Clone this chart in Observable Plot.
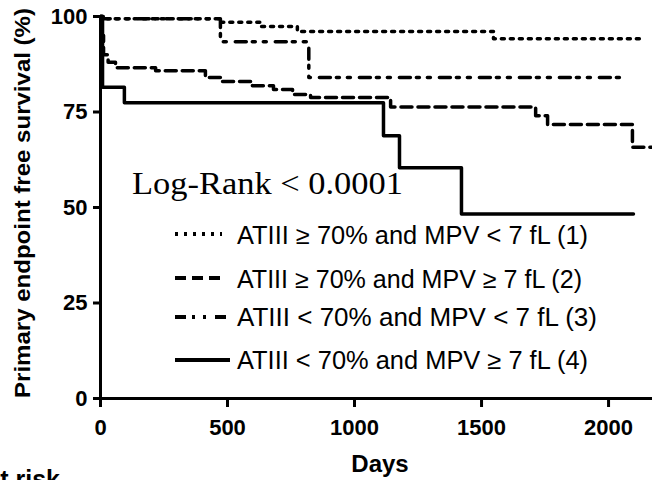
<!DOCTYPE html>
<html>
<head>
<meta charset="utf-8">
<script src="https://cdn.jsdelivr.net/npm/d3@7"></script>
<script src="https://cdn.jsdelivr.net/npm/@observablehq/plot@0.6"></script>
<style>
  html, body { margin: 0; padding: 0; background: #fff; }
  svg { display: block; }
</style>
</head>
<body>
<div id="chart"></div>
<script>
// ---- data ----
const groups = [
  "ATIII \u2265 70% and MPV < 7 fL (1)",
  "ATIII \u2265 70% and MPV \u2265 7 fL (2)",
  "ATIII < 70% and MPV < 7 fL (3)",
  "ATIII < 70% and MPV \u2265 7 fL (4)"
];
const days1 = [0, 10, 472, 630, 775, 1547, 2138];
const surv1 = [100, 99.4, 98.5, 97.4, 96.1, 94.2, 94.2];
const days2 = [0, 4, 12, 30, 59, 217, 413, 480, 598, 681, 756, 827, 1142, 1713, 1760, 2094, 2173];
const surv2 = [100, 95, 90, 88, 86.6, 85.8, 84.0, 83.0, 81.9, 80.9, 79.6, 78.8, 76.3, 74.0, 71.7, 65.8, 65.8];
const days3 = [0, 10, 472, 820, 2070];
const surv3 = [100, 99.4, 93.4, 84.0, 84.0];
const days4 = [0, 8, 94, 1114, 1177, 1421, 2098];
const surv4 = [100, 81.5, 77.4, 68.8, 60.4, 48.3, 48.3];
const xTicks = [0, 500, 1000, 1500, 2000];
const yTicks = [0, 25, 50, 75, 100];
const pText = "Log-Rank < 0.0001";

// ---- styles ----
const dashes = ["3,6", "11,6", "11,6,3,8,3,9", null];
const font = "'Liberation Sans', Arial, sans-serif";

const series = [[days1, surv1], [days2, surv2], [days3, surv3], [days4, surv4]];
const table = series.flatMap(([d, s], i) => d.map((x, j) => ({group: groups[i], idx: i, day: x, surv: s[j]})));

const marks = [];
series.forEach((_, i) => {
  marks.push(Plot.line(table.filter(r => r.idx === i), {
    x: "day", y: "surv", curve: "step-after",
    stroke: "black", strokeWidth: 3.5,
    strokeDasharray: dashes[i] || undefined
  }));
});
marks.push(Plot.ruleX([0], {strokeWidth: 3, stroke: "black"}));
marks.push(Plot.ruleY([0], {strokeWidth: 3, stroke: "black", x1: 0, x2: 2173}));
marks.push(Plot.axisY({ticks: yTicks, tickFormat: "d", tickSize: 7, tickPadding: 6, fontSize: 22, strokeWidth: 3, label: null}));
marks.push(Plot.axisX({ticks: xTicks, tickFormat: "d", tickSize: 9, tickPadding: 12, fontSize: 22, strokeWidth: 3, label: null}));

const plot = Plot.plot({
  width: 652, height: 480,
  marginLeft: 100, marginRight: 0, marginTop: 16, marginBottom: 82,
  x: {domain: [0, 2173]},
  y: {domain: [0, 100]},
  style: {fontFamily: font, color: "black", background: "white", overflow: "visible"},
  marks
});

const svg = d3.select(plot);
svg.selectAll('g[aria-label="x-axis tick label"], g[aria-label="y-axis tick label"]')
  .attr("font-weight", "bold").style("font-weight", "bold");

const g = svg.append("g").attr("font-family", font).attr("fill", "black").attr("text-anchor", "start");

// axis titles
g.append("text").attr("transform", "translate(30,203) rotate(-90)")
  .attr("text-anchor", "middle").attr("font-size", 22).attr("font-weight", "bold")
  .attr("textLength", 390).attr("lengthAdjust", "spacingAndGlyphs")
  .text("Primary endpoint free survival (%)");
g.append("text").attr("x", 380).attr("y", 472).attr("text-anchor", "middle")
  .attr("font-size", 24).attr("font-weight", "bold").text("Days");
g.append("text").attr("x", 60).attr("y", 488).attr("text-anchor", "end")
  .attr("font-size", 25).attr("font-weight", "bold").text("Number at risk");

// log-rank annotation
g.append("text").attr("x", 132).attr("y", 194).attr("text-anchor", "start")
  .attr("font-family", "'Liberation Serif', 'DejaVu Serif', serif").attr("font-size", 31)
  .attr("textLength", 271).attr("lengthAdjust", "spacingAndGlyphs")
  .text(pText);

// legend
const legY = [234, 278, 317, 360];
const legBase = [244, 288, 326, 369];
const legEnd = [222, 222, 230, 230];
const legW = [351, 345, 360, 351];
groups.forEach((name, i) => {
  const ln = g.append("line").attr("x1", 175).attr("x2", legEnd[i])
    .attr("y1", legY[i]).attr("y2", legY[i])
    .attr("stroke", "black").attr("stroke-width", 4);
  if (dashes[i]) ln.attr("stroke-dasharray", dashes[i]);
  g.append("text").attr("x", 237).attr("y", legBase[i]).attr("font-size", 25)
    .attr("text-anchor", "start")
    .attr("textLength", legW[i]).attr("lengthAdjust", "spacingAndGlyphs")
    .text(name);
});

document.getElementById("chart").appendChild(plot);
</script>
</body>
</html>
